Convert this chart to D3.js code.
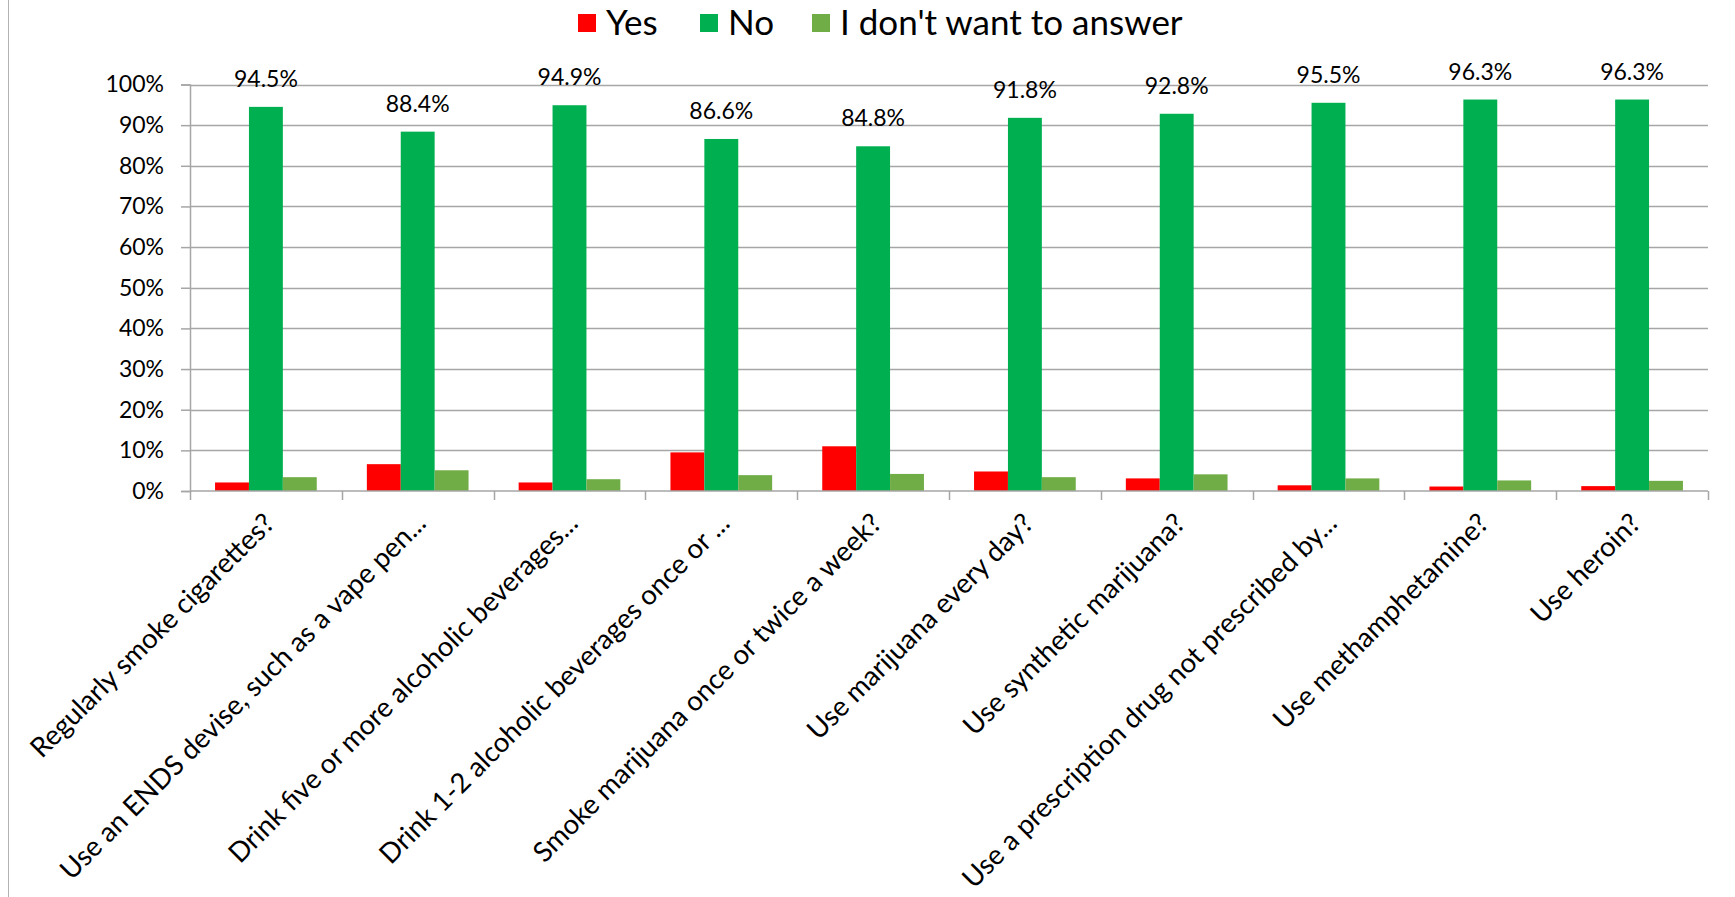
<!DOCTYPE html>
<html>
<head>
<meta charset="utf-8">
<script src="https://cdn.jsdelivr.net/npm/d3@7"></script>
<style>
  html, body { margin: 0; padding: 0; background: #fff; }
  svg { display: block; font-family: Lato, "Open Sans", sans-serif; }
</style>
</head>
<body>
<svg id="chart" width="1735" height="897"></svg>
<script>
// Survey items (category axis)
const categories = [
  "Regularly smoke cigarettes?",
  "Use an ENDS devise, such as a vape pen...",
  "Drink five or more alcoholic beverages...",
  "Drink 1-2 alcoholic beverages once or ...",
  "Smoke marijuana once or twice a week?",
  "Use marijuana every day?",
  "Use synthetic marijuana?",
  "Use a prescription drug not prescribed by...",
  "Use methamphetamine?",
  "Use heroin?"
];

// Share of responses per item (percent)
const yesValues    = [2.1, 6.6, 2.1, 9.5, 11.0, 4.8, 3.1, 1.4, 1.1, 1.2];
const noValues     = [94.5, 88.4, 94.9, 86.6, 84.8, 91.8, 92.8, 95.5, 96.3, 96.3];
const noAnswerVals = [3.4, 5.1, 2.9, 3.9, 4.2, 3.4, 4.1, 3.1, 2.6, 2.5];

const seriesNames  = ["Yes", "No", "I don't want to answer"];
const seriesColors = ["#ff0000", "#00b050", "#70ad47"];
const yTicks = [0, 10, 20, 30, 40, 50, 60, 70, 80, 90, 100];

const seriesValues = [yesValues, noValues, noAnswerVals];
const rows = categories.map((c, i) => ({
  cat: c,
  vals: seriesNames.map((s, j) => ({ series: s, value: seriesValues[j][i], idx: j }))
}));

const svg = d3.select("#chart");
const W = 1735, H = 897;
const plot = { left: 190, right: 1708, top: 84.5, bottom: 491 };

// Left frame edge of the chart area
svg.append("line")
  .attr("x1", 8.5).attr("x2", 8.5).attr("y1", 0).attr("y2", H)
  .attr("stroke", "#b3b3b3").attr("stroke-width", 1);

const x = d3.scaleBand().domain(categories).range([plot.left, plot.right]).paddingInner(0).paddingOuter(0);
const xs = d3.scaleBand().domain(seriesNames).range([0, x.bandwidth()]).paddingInner(0).paddingOuter(0.739);
const y = d3.scaleLinear().domain([0, 100]).range([plot.bottom, plot.top]);

const gridColor = "#a6a6a6";

// Horizontal gridlines
svg.append("g").selectAll("line").data(yTicks.filter(t => t > 0)).join("line")
  .attr("x1", plot.left).attr("x2", plot.right)
  .attr("y1", d => Math.round(y(d)) + 0.5).attr("y2", d => Math.round(y(d)) + 0.5)
  .attr("stroke", gridColor).attr("stroke-width", 1.5);

// Y axis
const yAxis = svg.append("g")
  .attr("transform", `translate(${plot.left},0)`)
  .call(d3.axisLeft(y).tickValues(yTicks).tickFormat(d => d + "%").tickSize(9).tickPadding(17));
yAxis.select(".domain").attr("stroke", gridColor).attr("stroke-width", 1.5);
yAxis.selectAll(".tick line").attr("stroke", gridColor).attr("stroke-width", 1.5);
yAxis.selectAll(".tick text").attr("font-size", 23).attr("fill", "#000")
  .attr("font-family", "Lato, 'Open Sans', sans-serif");

// Bars
const groups = svg.append("g").selectAll("g").data(rows).join("g")
  .attr("transform", d => `translate(${x(d.cat)},0)`);
groups.selectAll("rect").data(d => d.vals).join("rect")
  .attr("x", d => xs(d.series))
  .attr("width", xs.bandwidth())
  .attr("y", d => y(d.value))
  .attr("height", d => y(0) - y(d.value))
  .attr("fill", d => seriesColors[d.idx]);

// Value labels above the "No" bars
svg.append("g").selectAll("text").data(rows).join("text")
  .attr("x", d => x(d.cat) + xs("No") + xs.bandwidth() / 2)
  .attr("y", d => y(d.vals[1].value) - 20)
  .attr("text-anchor", "middle")
  .attr("font-size", 23).attr("fill", "#000")
  .text(d => d.vals[1].value.toFixed(1) + "%");

// X axis line with ticks between categories
const boundaries = categories.map(c => x(c)).concat([plot.right]);
const xAxis = svg.append("g");
xAxis.append("line")
  .attr("x1", plot.left).attr("x2", plot.right)
  .attr("y1", plot.bottom).attr("y2", plot.bottom)
  .attr("stroke", gridColor).attr("stroke-width", 1.5);
xAxis.selectAll("line.tick").data(boundaries).join("line").attr("class", "tick")
  .attr("x1", d => Math.round(d) + 0.5).attr("x2", d => Math.round(d) + 0.5)
  .attr("y1", plot.bottom).attr("y2", plot.bottom + 9)
  .attr("stroke", gridColor).attr("stroke-width", 1.5);

// Rotated category labels
xAxis.selectAll("text").data(categories).join("text")
  .attr("transform", d => `translate(${x(d) + x.bandwidth() / 2 + 10},${plot.bottom + 34}) rotate(-45)`)
  .attr("text-anchor", "end")
  .attr("font-size", 27.5).attr("fill", "#000")
  .text(d => d);

// Legend
const legendX = [578, 700, 812];
const legend = svg.append("g").selectAll("g").data(seriesNames).join("g")
  .attr("transform", (d, i) => `translate(${legendX[i]},0)`);
legend.append("rect")
  .attr("x", 0).attr("y", 14).attr("width", 18).attr("height", 18)
  .attr("fill", (d, i) => seriesColors[i]);
legend.append("text")
  .attr("x", 28).attr("y", 34.5)
  .attr("font-size", 35).attr("fill", "#000")
  .text(d => d);
</script>
</body>
</html>
